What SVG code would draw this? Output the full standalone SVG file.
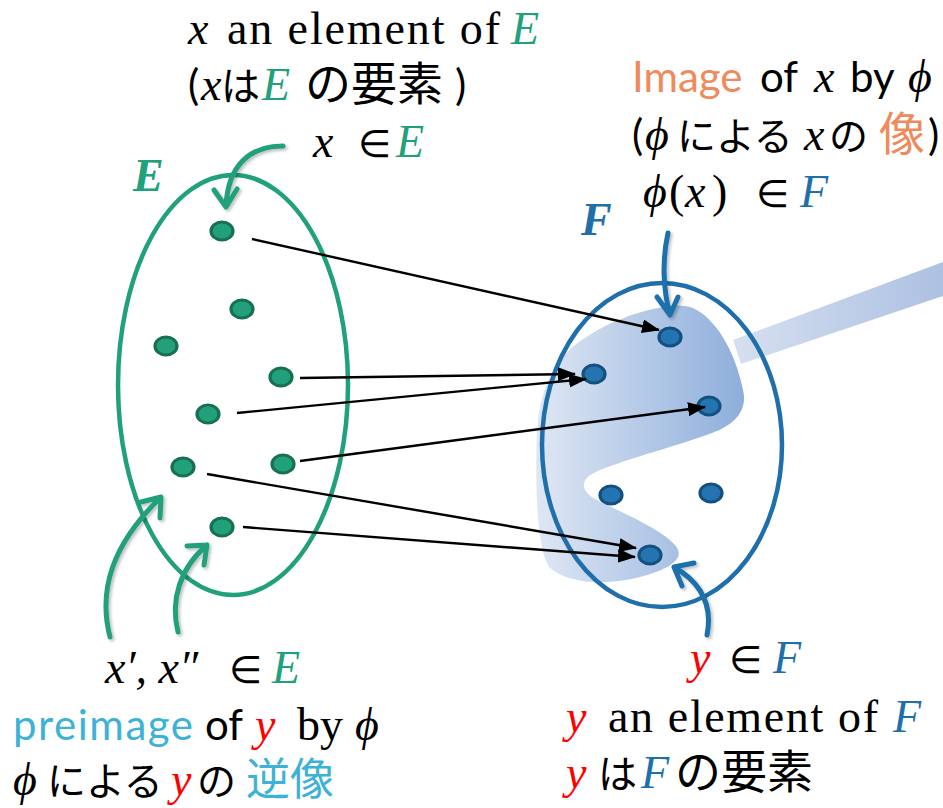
<svg xmlns="http://www.w3.org/2000/svg" width="943" height="808" viewBox="0 0 943 808">
<defs>
  <linearGradient id="blobGrad" gradientUnits="userSpaceOnUse" x1="536" y1="0" x2="745" y2="0">
    <stop offset="0" stop-color="#dfe7f4"/>
    <stop offset="1" stop-color="#8daedb"/>
  </linearGradient>
  <linearGradient id="beamGrad" gradientUnits="userSpaceOnUse" x1="735" y1="0" x2="943" y2="0">
    <stop offset="0" stop-color="#d5dff0"/>
    <stop offset="1" stop-color="#adc1e2"/>
  </linearGradient>
  <marker id="ah" markerUnits="userSpaceOnUse" markerWidth="19" markerHeight="15" refX="17" refY="7" orient="auto">
    <path d="M0,0 L18,7 L0,14 Z" fill="#000"/>
  </marker>
  <filter id="sh" x="-30%" y="-30%" width="160%" height="160%">
    <feDropShadow dx="2" dy="2" stdDeviation="1.5" flood-color="#000" flood-opacity="0.25"/>
  </filter>
</defs>
<style>
  .set { fill: none; stroke-width: 4.5; }
  .dotE { fill: #21a07b; stroke: #17704f; stroke-width: 3.2; }
  .dotF { fill: #2474b1; stroke: #14507f; stroke-width: 3.2; }
  .map { stroke: #000; stroke-width: 2.4; fill: none; marker-end: url(#ah); }
  .curve { fill: none; stroke-width: 5; stroke-linecap: round; stroke-linejoin: round; filter: url(#sh); }
  .g { fill: #20a07b; }
  .gs { stroke: #20a07b; }
  .b { fill: #1f6fab; }
  .bs { stroke: #1f6fab; }
  .r { fill: #ff0000; }
  .o { fill: #ee8a5c; }
  .c { fill: #3db2d6; }
  .rm { font-family: "Liberation Serif", serif; font-size: 46px; }
  .mi { font-family: "Liberation Serif", serif; font-style: italic; font-size: 46px; }
  .el { font-family: "DejaVu Sans", sans-serif; font-size: 38px; }
  .sn { font-family: Lato, "Liberation Sans", sans-serif; font-size: 42px; }
  .jp { font-family: "Noto Sans CJK JP", sans-serif; font-size: 46px; }
  .kn { font-family: "Noto Sans CJK JP", sans-serif; font-size: 39px; }
  .lbl { font-family: "Liberation Serif", serif; font-style: italic; font-weight: bold; font-size: 46px; }
  text { fill: #000; }
</style>

<g id="image-region">
  <polygon points="733,340 943,262 943,296 741,364" fill="url(#beamGrad)"/>
  <path d="M693,308 C715,318 735,350 743,390 C748,410 735,425 712,433 C680,445 630,458 600,470 C580,478 578,490 597,500 C620,512 660,528 675,545 C688,560 665,570 640,577 C610,585 570,585 550,568 C536,550 535,480 537,430 C540,395 550,365 575,345 C605,322 640,310 670,306 C680,305 688,306 693,308 Z" fill="url(#blobGrad)"/>
</g>

<g id="set-E">
  <ellipse class="set gs" cx="233" cy="385" rx="115" ry="210"/>
  <text class="lbl g" x="133" y="191">E</text>
</g>
<g id="set-F">
  <ellipse class="set bs" cx="662" cy="445" rx="120" ry="162"/>
  <text class="lbl b" x="581" y="235">F</text>
</g>

<g id="elements-E">
  <ellipse class="dotE" cx="222" cy="231" rx="11" ry="9"/>
  <ellipse class="dotE" cx="242" cy="309" rx="11" ry="9"/>
  <ellipse class="dotE" cx="166" cy="346" rx="11" ry="9"/>
  <ellipse class="dotE" cx="281" cy="377" rx="11" ry="9"/>
  <ellipse class="dotE" cx="208" cy="414" rx="11" ry="9"/>
  <ellipse class="dotE" cx="183" cy="467" rx="11" ry="9"/>
  <ellipse class="dotE" cx="283" cy="464" rx="11" ry="9"/>
  <ellipse class="dotE" cx="222" cy="527" rx="11" ry="9"/>
</g>
<g id="elements-F">
  <ellipse class="dotF" cx="670" cy="337" rx="11" ry="9"/>
  <ellipse class="dotF" cx="594" cy="374" rx="11" ry="9"/>
  <ellipse class="dotF" cx="709" cy="406" rx="11" ry="9"/>
  <ellipse class="dotF" cx="611" cy="495" rx="11" ry="9"/>
  <ellipse class="dotF" cx="711" cy="493" rx="11" ry="9"/>
  <ellipse class="dotF" cx="650" cy="555" rx="11" ry="9"/>
</g>

<g id="connectors">
  <line class="map" x1="252" y1="239" x2="659" y2="330"/>
  <line class="map" x1="300" y1="378" x2="575" y2="374"/>
  <line class="map" x1="237" y1="413" x2="586" y2="379"/>
  <line class="map" x1="300" y1="461" x2="705" y2="407"/>
  <line class="map" x1="207" y1="474" x2="636" y2="548"/>
  <line class="map" x1="243" y1="527" x2="635" y2="557"/>
  <path class="curve gs" d="M283,146 C250,146 228,165 226,206 M214,190 L226,207 L237,189"/>
  <path class="curve gs" d="M110,637 C98,590 112,545 160,498 M141,502 L161,497 L160,518"/>
  <path class="curve gs" d="M178,632 C170,600 180,568 207,545 M187,546 L207,545 L204,565"/>
  <path class="curve bs" d="M668,233 C662,260 663,290 670,314 M657,297 L670,315 L678,297"/>
  <path class="curve bs" d="M707,635 C712,610 705,585 674,567 M694,563 L674,567 L682,586"/>
</g>

<g id="label-x">
  <text class="mi" x="188" y="44">x</text>
  <text class="rm" x="227" y="44" textLength="273" lengthAdjust="spacing">an element of</text>
  <text class="mi g" x="511" y="44">E</text>
  <text class="sn" x="188" y="100">(</text>
  <text class="mi" x="201" y="100">x</text>
  <text class="kn" x="221" y="100">は</text>
  <text class="mi g" x="262" y="100">E</text>
  <text class="jp" x="305" y="100">の要素</text>
  <text class="sn" x="455" y="100">)</text>
  <text class="mi" x="313" y="157">x</text>
  <text class="el" x="358" y="157">∈</text>
  <text class="mi g" x="396" y="157">E</text>
</g>

<g id="label-image">
  <text class="sn o" x="632" y="92">Image</text>
  <text class="sn" x="760" y="92">of</text>
  <text class="mi" x="814" y="92">x</text>
  <text class="sn" x="850" y="92">by</text>
  <text class="mi" x="908" y="92">ϕ</text>
  <text class="sn" x="632" y="150">(</text>
  <text class="mi" x="645" y="150">ϕ</text>
  <text class="kn" x="677" y="150">による</text>
  <text class="mi" x="804" y="150">x</text>
  <text class="kn" x="829" y="150">の</text>
  <text class="jp o" x="879" y="150">像</text>
  <text class="sn" x="928" y="150">)</text>
  <text class="mi" x="643" y="207">ϕ</text>
  <text class="rm" x="669" y="207">(</text>
  <text class="mi" x="685" y="207">x</text>
  <text class="rm" x="712" y="207">)</text>
  <text class="el" x="756" y="207">∈</text>
  <text class="mi b" x="800" y="207">F</text>
</g>

<g id="label-preimage">
  <text class="mi" x="105" y="683">x′, x″</text>
  <text class="el" x="229" y="683">∈</text>
  <text class="mi g" x="272" y="683">E</text>
  <text class="sn c" x="13" y="740" textLength="180" lengthAdjust="spacing">preimage</text>
  <text class="sn" x="205" y="740">of</text>
  <text class="mi r" x="255" y="740">y</text>
  <text class="rm" x="297" y="740">by</text>
  <text class="mi" x="355" y="740">ϕ</text>
  <text class="mi" x="13" y="795">ϕ</text>
  <text class="kn" x="47" y="795">による</text>
  <text class="mi r" x="171" y="795">y</text>
  <text class="kn" x="197" y="795">の</text>
  <text class="jp c" x="246" y="795" style="font-size:44px">逆像</text>
</g>

<g id="label-y">
  <text class="mi r" x="690" y="673">y</text>
  <text class="el" x="729" y="673">∈</text>
  <text class="mi b" x="773" y="673">F</text>
  <text class="mi r" x="566" y="732">y</text>
  <text class="rm" x="608" y="732" textLength="270" lengthAdjust="spacing">an element of</text>
  <text class="mi b" x="893" y="732">F</text>
  <text class="mi r" x="566" y="788">y</text>
  <text class="kn" x="598" y="788">は</text>
  <text class="mi b" x="641" y="788">F</text>
  <text class="jp" x="675" y="788">の要素</text>
</g>
</svg>
